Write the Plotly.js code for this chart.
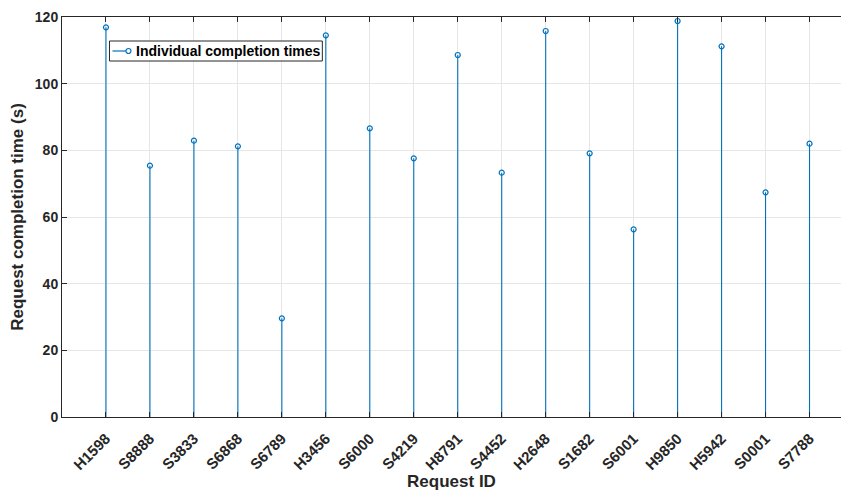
<!DOCTYPE html>
<html>
<head>
<meta charset="utf-8">
<script src="https://cdn.plot.ly/plotly-3.0.1.min.js"></script>
<style>
html,body{margin:0;padding:0;background:#fff;overflow:hidden;}
#chart{width:841px;height:491px;}
</style>
</head>
<body>
<div id="chart"></div>
<script>
// Data
var requestIds = ["H1598","S8888","S3833","S6868","S6789","H3456","S6000","S4219","H8791","S4452","H2648","S1682","S6001","H9850","H5942","S0001","S7788"];
var completionTimes = [116.9, 75.4, 82.9, 81.2, 29.6, 114.5, 86.6, 77.6, 108.6, 73.3, 115.8, 79.1, 56.3, 118.8, 111.2, 67.4, 82.0];
var yTicks = [0, 20, 40, 60, 80, 100, 120];
var seriesName = 'Individual completion times';

var positions = requestIds.map(function(_, i){ return i + 1; });

// Build stem segments from the data
var stemX = [], stemY = [];
positions.forEach(function(p, i){
  stemX.push(p, p, null);
  stemY.push(0, completionTimes[i], null);
});

var blue = '#0072BD';
var dark = '#262626';
var font = 'Liberation Sans, Arial, sans-serif';

// plot area geometry (pixels)
var L = 61.5, W = 779.5, T = 17, H = 400;
function px(x){ return (x - L) / W; }
function py(y){ return (T + H - y) / H; }

var traces = [
  {x: stemX, y: stemY, type: 'scatter', mode: 'lines',
   line: {color: blue, width: 1.1}, showlegend: false, hoverinfo: 'skip'},
  {x: positions, y: completionTimes, type: 'scatter', mode: 'markers',
   name: seriesName,
   marker: {symbol: 'circle-open', size: 5, color: blue, line: {width: 1.2, color: blue}},
   showlegend: false}
];

var layout = {
  width: 841, height: 491,
  margin: {l: L, r: 0, t: T, b: 491 - T - H},
  paper_bgcolor: '#fff', plot_bgcolor: '#fff',
  font: {family: font, color: dark, size: 14},
  showlegend: false,
  xaxis: {
    range: [0, W / 44],
    tickmode: 'array', tickvals: positions, ticktext: requestIds,
    tickangle: -45,
    ticklabelstandoff: 6,
    tickfont: {family: font, size: 15, color: dark, weight: 'bold'},
    ticks: 'inside', ticklen: 5, tickcolor: dark, tickwidth: 1,
    showline: true, linecolor: dark, linewidth: 1, mirror: 'ticks',
    showgrid: true, gridcolor: '#e6e6e6', gridwidth: 1,
    zeroline: false,
    title: {text: 'Request ID', standoff: 6,
            font: {family: font, size: 17, color: dark, weight: 'bold'}}
  },
  yaxis: {
    range: [0, 120],
    tickmode: 'array', tickvals: yTicks,
    tickfont: {family: font, size: 14, color: dark, weight: 'bold'},
    ticks: 'inside', ticklen: 5, tickcolor: dark, tickwidth: 1,
    showline: true, linecolor: dark, linewidth: 1, mirror: false,
    showgrid: true, gridcolor: '#e6e6e6', gridwidth: 1,
    zeroline: false,
    title: {text: 'Request completion time (s)', standoff: 6,
            font: {family: font, size: 17, color: dark, weight: 'bold'}}
  },
  // legend box drawn to match the reference style
  shapes: [
    {type: 'rect', xref: 'paper', yref: 'paper',
     x0: px(109), x1: px(322), y0: py(61), y1: py(41),
     line: {color: dark, width: 1}, fillcolor: '#fff', layer: 'above'},
    {type: 'line', xref: 'paper', yref: 'paper',
     x0: px(112), x1: px(128), y0: py(51), y1: py(51),
     line: {color: blue, width: 1.2}, layer: 'above'},
    {type: 'circle', xref: 'paper', yref: 'paper',
     x0: px(125.5), x1: px(130.5), y0: py(53.5), y1: py(48.5),
     line: {color: blue, width: 1.2}, fillcolor: '#fff', layer: 'above'}
  ],
  annotations: [
    {text: seriesName, xref: 'paper', yref: 'paper',
     x: px(134), y: py(51), xanchor: 'left', yanchor: 'middle', showarrow: false,
     font: {family: font, size: 14, color: '#000', weight: 'bold'}}
  ]
};

Plotly.newPlot('chart', traces, layout, {displayModeBar: false, staticPlot: true});
</script>
</body>
</html>
